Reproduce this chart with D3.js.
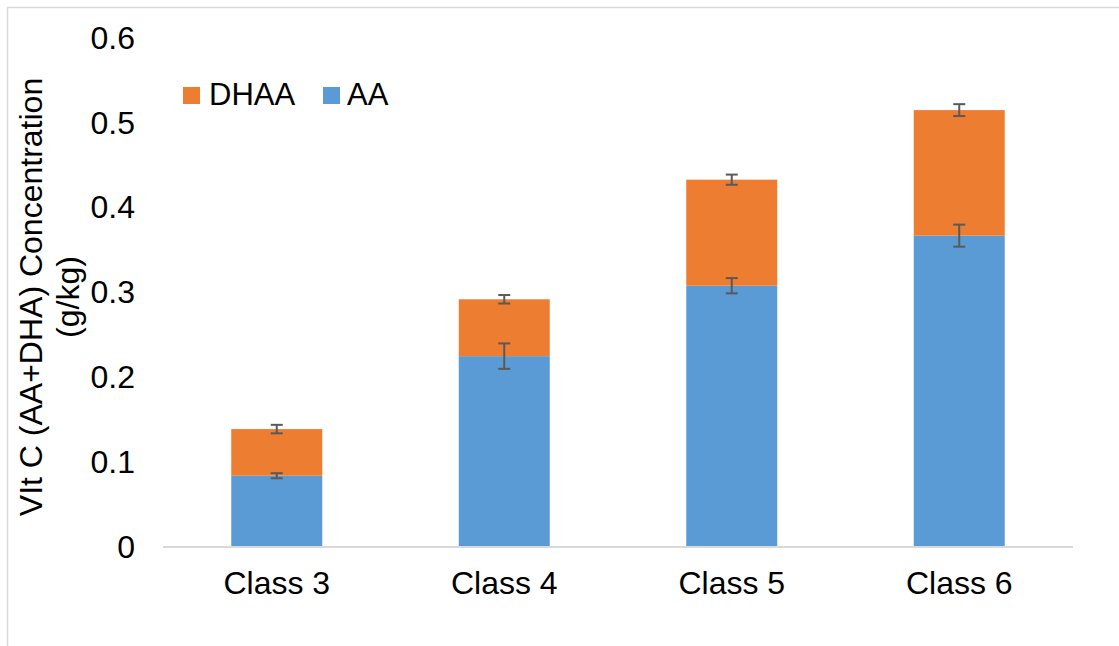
<!DOCTYPE html>
<html>
<head>
<meta charset="utf-8">
<script src="https://cdn.jsdelivr.net/npm/d3@7"></script>
<style>
  html, body { margin: 0; padding: 0; background: #fff; }
  svg { display: block; font-family: "Liberation Sans", Arial, sans-serif; }
</style>
</head>
<body>
<svg id="chart" width="1119" height="646"></svg>
<script>
const categories = ["Class 3", "Class 4", "Class 5", "Class 6"];
const aaValues = [0.084, 0.225, 0.308, 0.367];
const dhaaValues = [0.055, 0.067, 0.125, 0.148];
const aaErrors = [0.003, 0.015, 0.009, 0.013];
const totalErrors = [0.005, 0.005, 0.006, 0.007];
const yTicks = [0, 0.1, 0.2, 0.3, 0.4, 0.5, 0.6];
const seriesNames = ["DHAA", "AA"];
const colors = { AA: "#5B9BD5", DHAA: "#ED7D31" };

const svg = d3.select("#chart");
const plot = { left: 163, right: 1073, top: 38, bottom: 547 };
const FS = 32;

// outer chart border
svg.append("rect").attr("x", 7.5).attr("y", 7.5).attr("width", 1200).attr("height", 800)
  .attr("fill", "none").attr("stroke", "#d9d9d9").attr("stroke-width", 1.5);

const x = d3.scaleBand().domain(categories).range([plot.left, plot.right])
  .paddingInner(0.6).paddingOuter(0.3);
const y = d3.scaleLinear().domain([0, 0.6]).range([plot.bottom, plot.top]);

const rows = categories.map((c, i) => ({
  cat: c, AA: aaValues[i], DHAA: dhaaValues[i], aaErr: aaErrors[i], totErr: totalErrors[i]
}));
const stack = d3.stack().keys(["AA", "DHAA"])(rows);

// bars
stack.forEach(layer => {
  svg.append("g").selectAll("rect").data(layer).join("rect")
    .attr("x", d => x(d.data.cat))
    .attr("width", x.bandwidth())
    .attr("y", d => y(d[1]))
    .attr("height", d => y(d[0]) - y(d[1]))
    .attr("fill", colors[layer.key]);
});

// x axis baseline
svg.append("line").attr("x1", plot.left).attr("x2", plot.right)
  .attr("y1", y(0)).attr("y2", y(0)).attr("stroke", "#d9d9d9").attr("stroke-width", 2);

// error bars
const eb = svg.append("g").attr("stroke", "#595959").attr("stroke-width", 2).attr("fill", "none");
const cap = 6;
rows.forEach(r => {
  const cx = x(r.cat) + x.bandwidth() / 2;
  [[r.AA, r.aaErr], [r.AA + r.DHAA, r.totErr]].forEach(([v, e]) => {
    eb.append("line").attr("x1", cx).attr("x2", cx).attr("y1", y(v - e)).attr("y2", y(v + e));
    eb.append("line").attr("x1", cx - cap).attr("x2", cx + cap).attr("y1", y(v - e)).attr("y2", y(v - e));
    eb.append("line").attr("x1", cx - cap).attr("x2", cx + cap).attr("y1", y(v + e)).attr("y2", y(v + e));
  });
});

// y tick labels
const yAxis = d3.axisLeft(y).tickValues(yTicks).tickSize(0).tickPadding(28)
  .tickFormat(d => d === 0 ? "0" : d3.format(".1f")(d));
const gy = svg.append("g").attr("transform", `translate(${plot.left},0)`).call(yAxis);
gy.select(".domain").remove();
gy.selectAll("text").attr("font-size", FS).attr("fill", "#000")
  .attr("font-family", "'Liberation Sans', Arial, sans-serif");

// x tick labels
const xAxis = d3.axisBottom(x).tickSize(0).tickPadding(24);
const gx = svg.append("g").attr("transform", `translate(0,${plot.bottom})`).call(xAxis);
gx.select(".domain").remove();
gx.selectAll("text").attr("font-size", FS).attr("fill", "#000")
  .attr("font-family", "'Liberation Sans', Arial, sans-serif");

// y axis title
const title = svg.append("text")
  .attr("transform", "translate(0,297) rotate(-90)")
  .attr("text-anchor", "middle").attr("font-size", FS).attr("fill", "#000");
title.append("tspan").attr("x", 0).attr("y", 42).text("VIt C (AA+DHA) Concentration");
title.append("tspan").attr("x", 0).attr("y", 79).text("(g/kg)");

// legend
const legend = svg.append("g");
const legendPos = [{ sx: 183, tx: 209 }, { sx: 323, tx: 347 }];
seriesNames.forEach((name, i) => {
  legend.append("rect").attr("x", legendPos[i].sx).attr("y", 87).attr("width", 17).attr("height", 17)
    .attr("fill", colors[name]);
  legend.append("text").attr("x", legendPos[i].tx).attr("y", 105).attr("font-size", 31)
    .attr("fill", "#000").text(name);
});
</script>
</body>
</html>
